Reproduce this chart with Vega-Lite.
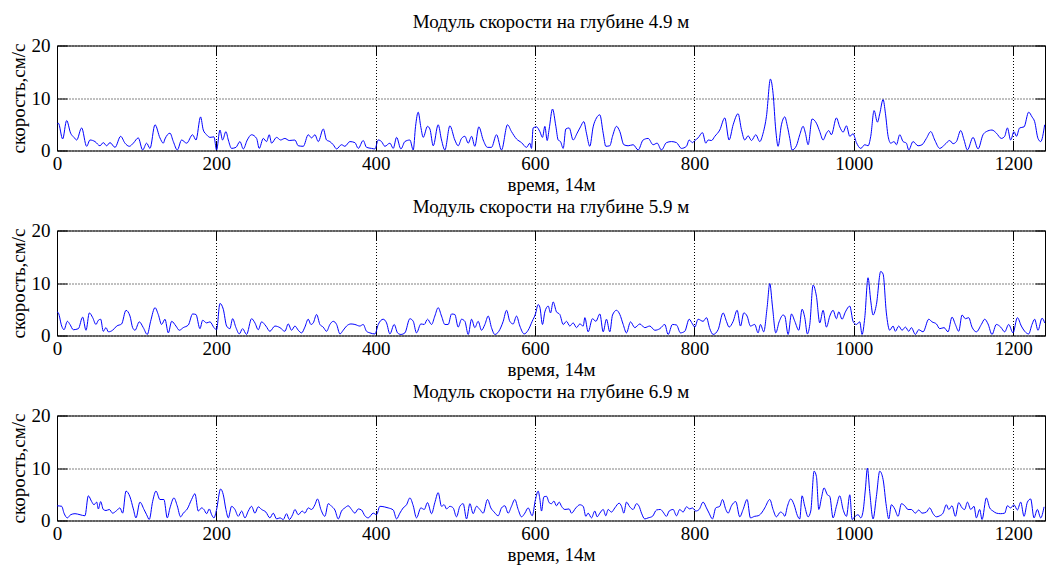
{
  "$schema": "https://vega.github.io/schema/vega-lite/v6.json",
  "background": "white",
  "padding": {"left": 9, "top": 11.5, "right": 0, "bottom": 0},
  "config": {
    "font": "Liberation Serif",
    "view": {"stroke": "black", "strokeWidth": 1},
    "axis": {
      "labelFont": "Liberation Serif", "labelFontSize": 19, "labelColor": "black",
      "titleFont": "Liberation Serif", "titleFontSize": 19, "titleFontWeight": "normal", "titleColor": "black",
      "tickColor": "black", "tickWidth": 1, "tickSize": -10, "domain": false,
      "gridColor": "black", "gridDash": [1, 2], "gridOpacity": 1, "gridWidth": 1,
      "labelFlush": false, "format": "d"
    },
    "title": {"font": "Liberation Serif", "fontSize": 19, "fontWeight": "normal", "color": "black", "baseline": "alphabetic", "offset": 5, "anchor": "middle"}
  },
  "datasets": {
    "d49": [
      {"t":0,"v":5.0},{"t":1.7,"v":5.2},{"t":7.1,"v":2.2},{"t":12.1,"v":5.7},{"t":17.1,"v":3.3},{"t":21.3,"v":2.5},{"t":24.7,"v":2.0},{"t":30.9,"v":4.3},{"t":37.2,"v":0.8},{"t":41.4,"v":2.0},{"t":47.7,"v":1.7},{"t":53.9,"v":0.9},{"t":58.1,"v":1.5},{"t":62.3,"v":0.9},{"t":66.5,"v":1.5},{"t":72.8,"v":0.6},{"t":79.9,"v":2.7},{"t":85.3,"v":1.4},{"t":90.8,"v":0.8},{"t":95.8,"v":1.4},{"t":102.0,"v":2.4},{"t":107.5,"v":0.1},{"t":112.5,"v":1.4},{"t":116.7,"v":0.4},{"t":123.0,"v":4.9},{"t":129.2,"v":2.4},{"t":133.4,"v":1.4},{"t":135.5,"v":2.2},{"t":141.8,"v":3.3},{"t":146.0,"v":1.7},{"t":151.0,"v":0.1},{"t":156.4,"v":2.0},{"t":162.7,"v":1.4},{"t":170.2,"v":3.0},{"t":174.4,"v":2.0},{"t":180.2,"v":6.4},{"t":183.6,"v":3.9},{"t":187.8,"v":3.0},{"t":192.0,"v":2.5},{"t":197.0,"v":2.6},{"t":200.3,"v":0.1},{"t":204.5,"v":3.9},{"t":207.8,"v":2.0},{"t":212.0,"v":3.6},{"t":215.0,"v":2.0},{"t":219.1,"v":0.4},{"t":224.6,"v":0.6},{"t":229.6,"v":1.7},{"t":233.8,"v":0.3},{"t":238.8,"v":2.0},{"t":244.2,"v":3.0},{"t":250.5,"v":2.3},{"t":253.8,"v":0.4},{"t":258.9,"v":2.3},{"t":263.0,"v":1.7},{"t":266.4,"v":3.0},{"t":269.3,"v":1.4},{"t":275.6,"v":2.5},{"t":280.6,"v":2.0},{"t":286.0,"v":2.3},{"t":291.5,"v":1.9},
      {"t":298.6,"v":2.0},{"t":302.8,"v":0.9},{"t":309.1,"v":0.8},{"t":315.3,"v":3.0},{"t":319.5,"v":2.4},{"t":323.7,"v":3.0},{"t":327.9,"v":1.7},{"t":334.2,"v":4.1},{"t":338.3,"v":2.0},{"t":342.5,"v":1.7},{"t":346.7,"v":1.1},{"t":350.9,"v":0.3},{"t":357.1,"v":1.1},{"t":361.3,"v":0.8},{"t":367.6,"v":1.7},{"t":373.9,"v":1.5},{"t":378.1,"v":0.4},{"t":384.3,"v":1.9},{"t":388.5,"v":0.6},{"t":394.8,"v":0.4},{"t":399.0,"v":0.3},{"t":403.2,"v":2.0},{"t":407.3,"v":1.7},{"t":411.5,"v":0.8},{"t":417.8,"v":1.4},{"t":422.0,"v":0.4},{"t":426.2,"v":2.5},{"t":431.6,"v":0.3},{"t":436.6,"v":1.7},{"t":442.9,"v":2.0},{"t":447.1,"v":0.1},{"t":450.0,"v":4.6},{"t":453.3,"v":7.3},{"t":456.7,"v":4.4},{"t":459.6,"v":2.5},{"t":465.0,"v":4.6},{"t":468.0,"v":4.1},{"t":472.2,"v":0.9},{"t":478.4,"v":4.9},{"t":482.6,"v":2.0},{"t":486.8,"v":0.1},{"t":493.1,"v":4.7},{"t":499.3,"v":2.0},{"t":503.5,"v":0.9},{"t":507.7,"v":2.3},{"t":511.9,"v":2.7},{"t":516.1,"v":1.4},{"t":520.3,"v":2.7},{"t":524.4,"v":0.8},{"t":529.4,"v":4.5},{"t":534.9,"v":2.0},{"t":540.3,"v":0.6},{"t":545.3,"v":0.6},{"t":551.6,"v":3.0},{"t":557.9,"v":0.1},{"t":565.4,"v":4.9},{"t":570.4,"v":3.6},{"t":576.7,"v":2.2},{"t":583.0,"v":1.5},{"t":589.3,"v":0.6},{"t":593.4,"v":1.4},{"t":595.5,"v":0.4},{"t":597.6,"v":4.3},{"t":601.8,"v":4.5},
      {"t":606.0,"v":3.6},{"t":609.3,"v":2.5},{"t":612.3,"v":4.6},{"t":615.2,"v":1.9},{"t":617.7,"v":4.1},{"t":621.9,"v":7.9},{"t":626.1,"v":4.6},{"t":629.0,"v":2.0},{"t":631.9,"v":1.7},{"t":635.3,"v":0.4},{"t":638.6,"v":4.1},{"t":642.8,"v":4.3},{"t":647.8,"v":2.0},{"t":652.8,"v":3.3},{"t":657.0,"v":4.5},{"t":661.2,"v":5.5},{"t":664.5,"v":3.3},{"t":668.7,"v":0.8},{"t":672.9,"v":4.5},{"t":677.1,"v":6.2},{"t":681.3,"v":6.8},{"t":685.5,"v":3.3},{"t":688.8,"v":0.8},{"t":693.8,"v":0.9},{"t":697.2,"v":2.7},{"t":702.2,"v":4.6},{"t":706.4,"v":3.6},{"t":711.4,"v":1.1},{"t":716.8,"v":0.9},{"t":723.1,"v":1.1},{"t":729.4,"v":0.1},{"t":735.6,"v":2.0},{"t":741.9,"v":2.3},{"t":748.2,"v":1.1},{"t":753.2,"v":1.4},{"t":758.6,"v":0.1},{"t":764.9,"v":1.5},{"t":771.2,"v":1.7},{"t":777.5,"v":1.5},{"t":783.7,"v":0.4},{"t":790.0,"v":0.8},{"t":793.4,"v":2.0},{"t":797.5,"v":1.5},{"t":800.5,"v":1.9},{"t":804.6,"v":2.4},{"t":810.1,"v":3.4},{"t":814.3,"v":1.4},{"t":817.2,"v":2.0},{"t":821.4,"v":1.9},{"t":825.6,"v":2.7},{"t":831.8,"v":3.9},{"t":838.1,"v":6.2},{"t":843.5,"v":2.0},{"t":848.6,"v":4.9},{"t":854.8,"v":7.0},{"t":859.0,"v":4.0},{"t":863.2,"v":2.0},{"t":867.4,"v":2.8},{"t":871.6,"v":1.9},{"t":877.0,"v":3.0},{"t":882.0,"v":1.7},{"t":886.2,"v":3.3},{"t":890.4,"v":6.5},{"t":895.4,"v":13.6},{"t":898.7,"v":10.9},{"t":902.1,"v":3.9},{"t":905.0,"v":0.8},{"t":909.2,"v":4.9},
      {"t":913.4,"v":6.4},{"t":916.7,"v":4.6},{"t":919.7,"v":2.3},{"t":922.6,"v":0.1},{"t":928.0,"v":0.9},{"t":932.2,"v":3.0},{"t":936.4,"v":4.6},{"t":939.3,"v":3.3},{"t":942.7,"v":1.1},{"t":947.7,"v":6.0},{"t":953.1,"v":5.2},{"t":957.3,"v":3.6},{"t":961.5,"v":2.0},{"t":965.7,"v":3.3},{"t":968.6,"v":3.8},{"t":971.9,"v":3.0},{"t":978.2,"v":6.2},{"t":982.4,"v":4.5},{"t":986.6,"v":3.5},{"t":990.8,"v":4.7},{"t":995.0,"v":2.7},{"t":999.1,"v":3.2},{"t":1003.3,"v":1.5},{"t":1008.8,"v":0.4},{"t":1013.8,"v":1.1},{"t":1018.0,"v":0.9},{"t":1021.3,"v":2.7},{"t":1025.5,"v":7.6},{"t":1029.7,"v":5.4},{"t":1032.6,"v":7.0},{"t":1036.8,"v":9.7},{"t":1039.7,"v":7.1},{"t":1043.1,"v":2.7},{"t":1046.4,"v":1.4},{"t":1050.6,"v":1.7},{"t":1053.5,"v":1.1},{"t":1057.7,"v":3.0},{"t":1061.9,"v":1.7},{"t":1066.0,"v":1.4},{"t":1069.0,"v":0.1},{"t":1074.4,"v":1.7},{"t":1080.7,"v":0.9},{"t":1085.7,"v":1.1},{"t":1091.1,"v":2.3},{"t":1096.6,"v":3.6},{"t":1101.6,"v":2.0},{"t":1107.9,"v":0.4},{"t":1114.1,"v":1.1},{"t":1120.4,"v":1.9},{"t":1124.6,"v":1.3},{"t":1128.8,"v":1.7},{"t":1134.2,"v":3.8},{"t":1138.4,"v":2.0},{"t":1142.6,"v":0.1},{"t":1149.7,"v":2.5},{"t":1156.0,"v":0.3},{"t":1162.2,"v":3.0},{"t":1166.4,"v":3.6},{"t":1173.5,"v":3.9},{"t":1179.0,"v":3.3},{"t":1185.2,"v":2.3},{"t":1189.4,"v":2.7},{"t":1192.8,"v":4.3},{"t":1196.9,"v":2.0},{"t":1201.1,"v":3.6},{"t":1204.1,"v":2.7},{"t":1208.2,"v":4.3},{"t":1213.7,"v":4.5},{"t":1219.5,"v":7.3},{"t":1223.7,"v":6.4},{"t":1227.0,"v":5.5},{"t":1231.2,"v":2.3},{"t":1234.6,"v":1.7},{"t":1239.6,"v":4.9}
    ],
    "d59": [
      {"t":0,"v":4.5},{"t":1.7,"v":4.3},{"t":5.9,"v":1.8},{"t":8.8,"v":1.1},{"t":13.0,"v":2.7},{"t":16.3,"v":2.1},{"t":20.5,"v":1.1},{"t":26.8,"v":1.3},{"t":32.2,"v":3.5},{"t":36.4,"v":1.0},{"t":40.6,"v":4.3},{"t":44.8,"v":3.4},{"t":48.9,"v":2.1},{"t":51.9,"v":2.9},{"t":54.8,"v":3.1},{"t":58.1,"v":0.8},{"t":61.5,"v":1.5},{"t":64.4,"v":0.7},{"t":69.8,"v":1.0},{"t":74.9,"v":1.8},{"t":81.1,"v":2.2},{"t":86.6,"v":4.8},{"t":91.6,"v":3.7},{"t":94.9,"v":1.5},{"t":97.9,"v":1.0},{"t":103.3,"v":2.6},{"t":108.3,"v":1.5},{"t":113.3,"v":0.2},{"t":117.5,"v":2.7},{"t":123.0,"v":5.3},{"t":127.1,"v":4.0},{"t":131.3,"v":2.1},{"t":135.5,"v":3.1},{"t":139.7,"v":0.5},{"t":143.9,"v":2.7},{"t":149.3,"v":1.8},{"t":153.5,"v":1.0},{"t":158.5,"v":1.5},{"t":164.8,"v":2.0},{"t":170.2,"v":4.1},{"t":174.4,"v":4.0},{"t":179.4,"v":1.3},{"t":182.8,"v":2.9},{"t":187.8,"v":2.4},{"t":192.0,"v":2.6},{"t":197.0,"v":1.5},{"t":200.3,"v":1.1},{"t":204.5,"v":6.1},{"t":208.7,"v":5.0},{"t":212.9,"v":1.8},{"t":217.0,"v":1.3},{"t":220.4,"v":3.2},{"t":224.6,"v":1.5},{"t":228.8,"v":0.3},{"t":232.9,"v":1.3},{"t":237.9,"v":0.2},{"t":244.2,"v":3.2},{"t":248.4,"v":2.4},{"t":252.6,"v":1.1},{"t":256.8,"v":2.6},{"t":262.2,"v":1.8},{"t":267.2,"v":0.8},{"t":273.5,"v":1.8},{"t":279.8,"v":1.5},{"t":286.0,"v":0.8},{"t":290.2,"v":2.2},{"t":294.4,"v":1.0},
      {"t":298.6,"v":1.8},{"t":302.8,"v":1.0},{"t":307.0,"v":0.5},{"t":311.1,"v":1.6},{"t":315.3,"v":3.1},{"t":318.7,"v":2.1},{"t":321.6,"v":2.4},{"t":325.8,"v":4.0},{"t":330.0,"v":2.1},{"t":334.1,"v":1.6},{"t":338.3,"v":0.8},{"t":342.5,"v":2.1},{"t":346.7,"v":2.7},{"t":350.9,"v":2.1},{"t":355.1,"v":0.3},{"t":359.2,"v":1.0},{"t":363.4,"v":1.8},{"t":368.9,"v":2.2},{"t":373.9,"v":2.1},{"t":380.1,"v":1.8},{"t":384.3,"v":2.1},{"t":388.5,"v":0.8},{"t":392.7,"v":0.5},{"t":399.0,"v":0.3},{"t":403.2,"v":2.1},{"t":409.4,"v":3.1},{"t":413.6,"v":2.4},{"t":417.8,"v":0.3},{"t":423.2,"v":2.1},{"t":427.4,"v":0.5},{"t":431.6,"v":0.2},{"t":436.6,"v":0.5},{"t":442.9,"v":3.2},{"t":447.1,"v":2.7},{"t":451.2,"v":0.5},{"t":456.7,"v":2.2},{"t":460.9,"v":2.1},{"t":465.0,"v":3.1},{"t":470.1,"v":2.1},{"t":474.2,"v":3.7},{"t":478.4,"v":5.3},{"t":482.6,"v":3.7},{"t":486.8,"v":2.1},{"t":491.0,"v":2.1},{"t":495.2,"v":4.1},{"t":499.3,"v":4.0},{"t":503.5,"v":1.6},{"t":507.7,"v":3.1},{"t":511.9,"v":2.7},{"t":516.1,"v":0.2},{"t":520.3,"v":3.1},{"t":524.4,"v":1.5},{"t":528.6,"v":2.7},{"t":532.8,"v":1.0},{"t":537.0,"v":2.1},{"t":541.2,"v":3.7},{"t":545.3,"v":1.5},{"t":549.5,"v":0.2},{"t":554.5,"v":0.8},{"t":560.0,"v":2.7},{"t":564.2,"v":4.8},{"t":568.3,"v":2.7},{"t":572.5,"v":2.2},{"t":576.7,"v":3.7},{"t":580.9,"v":1.8},{"t":586.3,"v":0.3},{"t":591.3,"v":1.0},{"t":596.4,"v":2.7},{"t":600.5,"v":4.1},{"t":603.9,"v":5.9},
      {"t":606.0,"v":5.4},{"t":609.3,"v":2.1},{"t":612.3,"v":4.5},{"t":616.5,"v":5.6},{"t":619.4,"v":4.3},{"t":622.7,"v":6.4},{"t":626.9,"v":4.5},{"t":631.1,"v":4.0},{"t":635.3,"v":2.1},{"t":639.5,"v":2.7},{"t":643.6,"v":1.8},{"t":647.8,"v":2.4},{"t":652.0,"v":1.5},{"t":656.2,"v":2.2},{"t":660.4,"v":1.8},{"t":662.5,"v":3.4},{"t":666.6,"v":0.7},{"t":672.1,"v":3.2},{"t":676.3,"v":2.7},{"t":681.3,"v":4.1},{"t":685.5,"v":0.7},{"t":689.6,"v":3.1},{"t":693.8,"v":0.7},{"t":697.2,"v":3.9},{"t":702.2,"v":4.8},{"t":706.4,"v":4.0},{"t":710.6,"v":2.1},{"t":714.7,"v":0.5},{"t":719.8,"v":2.6},{"t":725.2,"v":1.5},{"t":731.5,"v":2.2},{"t":737.7,"v":1.5},{"t":744.0,"v":1.8},{"t":750.3,"v":1.0},{"t":756.6,"v":1.3},{"t":762.8,"v":2.1},{"t":767.0,"v":0.2},{"t":772.4,"v":2.1},{"t":777.5,"v":2.0},{"t":782.5,"v":0.5},{"t":787.9,"v":0.8},{"t":793.4,"v":3.1},{"t":797.5,"v":2.2},{"t":800.5,"v":1.6},{"t":804.6,"v":3.1},{"t":810.9,"v":2.7},{"t":815.1,"v":3.4},{"t":819.3,"v":1.3},{"t":823.5,"v":0.2},{"t":829.7,"v":1.1},{"t":836.0,"v":4.3},{"t":840.2,"v":2.7},{"t":843.5,"v":1.6},{"t":848.6,"v":2.7},{"t":853.6,"v":4.8},{"t":857.8,"v":1.8},{"t":862.0,"v":4.3},{"t":866.1,"v":3.7},{"t":870.3,"v":1.8},{"t":875.7,"v":2.1},{"t":879.9,"v":0.5},{"t":882.9,"v":2.1},{"t":887.0,"v":0.7},{"t":891.2,"v":5.3},{"t":894.6,"v":9.9},{"t":897.9,"v":5.6},{"t":902.1,"v":0.5},{"t":906.3,"v":2.6},{"t":911.3,"v":3.9},
      {"t":913.4,"v":3.7},{"t":917.6,"v":0.2},{"t":921.8,"v":4.1},{"t":926.0,"v":2.7},{"t":931.0,"v":1.0},{"t":935.1,"v":5.0},{"t":938.5,"v":3.4},{"t":941.8,"v":0.3},{"t":944.8,"v":2.1},{"t":948.9,"v":9.6},{"t":953.1,"v":7.5},{"t":957.3,"v":2.4},{"t":961.5,"v":4.8},{"t":965.7,"v":1.6},{"t":969.9,"v":3.7},{"t":974.0,"v":4.8},{"t":978.2,"v":3.2},{"t":981.2,"v":4.5},{"t":985.3,"v":3.1},{"t":989.5,"v":4.5},{"t":995.0,"v":5.6},{"t":999.1,"v":2.7},{"t":1003.3,"v":2.1},{"t":1007.5,"v":2.6},{"t":1010.4,"v":0.2},{"t":1013.8,"v":3.4},{"t":1017.9,"v":11.0},{"t":1021.3,"v":6.6},{"t":1024.2,"v":3.9},{"t":1028.4,"v":5.9},{"t":1033.8,"v":12.2},{"t":1036.8,"v":11.7},{"t":1040.9,"v":4.3},{"t":1045.1,"v":1.0},{"t":1049.3,"v":1.8},{"t":1052.2,"v":0.8},{"t":1056.4,"v":1.8},{"t":1060.6,"v":1.0},{"t":1064.8,"v":1.6},{"t":1069.0,"v":0.8},{"t":1072.3,"v":1.5},{"t":1077.3,"v":0.2},{"t":1081.5,"v":1.1},{"t":1087.0,"v":0.7},{"t":1094.1,"v":3.1},{"t":1098.2,"v":2.6},{"t":1103.7,"v":2.2},{"t":1107.9,"v":1.3},{"t":1113.3,"v":1.5},{"t":1118.3,"v":0.7},{"t":1123.3,"v":3.5},{"t":1127.5,"v":2.1},{"t":1131.7,"v":0.8},{"t":1135.9,"v":3.9},{"t":1140.1,"v":3.2},{"t":1144.2,"v":3.4},{"t":1148.4,"v":1.6},{"t":1153.9,"v":0.7},{"t":1160.1,"v":2.1},{"t":1164.3,"v":3.1},{"t":1168.5,"v":2.2},{"t":1173.5,"v":0.2},{"t":1178.9,"v":2.1},{"t":1184.4,"v":1.6},{"t":1189.4,"v":0.7},{"t":1194.4,"v":2.1},{"t":1199.9,"v":0.5},{"t":1205.3,"v":3.4},{"t":1210.3,"v":1.8},{"t":1214.5,"v":0.8},{"t":1219.5,"v":0.3},{"t":1223.7,"v":2.1},{"t":1227.0,"v":3.1},{"t":1231.2,"v":1.0},{"t":1236.3,"v":3.3},{"t":1239.6,"v":2.4}
    ],
    "d69": [
      {"t":0,"v":2.8},{"t":5.9,"v":2.7},{"t":8.8,"v":1.4},{"t":13.0,"v":0.5},{"t":17.1,"v":1.1},{"t":22.6,"v":1.3},{"t":28.9,"v":1.1},{"t":35.1,"v":0.9},{"t":39.3,"v":4.7},{"t":43.5,"v":3.6},{"t":46.4,"v":3.0},{"t":49.8,"v":3.5},{"t":51.9,"v":2.2},{"t":54.8,"v":3.6},{"t":58.1,"v":2.1},{"t":61.5,"v":1.9},{"t":65.7,"v":2.1},{"t":69.8,"v":1.4},{"t":74.9,"v":1.9},{"t":79.0,"v":2.4},{"t":82.4,"v":1.4},{"t":86.6,"v":5.6},{"t":91.6,"v":4.5},{"t":95.8,"v":2.2},{"t":99.1,"v":0.5},{"t":104.1,"v":3.5},{"t":109.2,"v":2.1},{"t":112.5,"v":1.1},{"t":115.8,"v":0.2},{"t":120.0,"v":3.6},{"t":124.2,"v":5.6},{"t":129.2,"v":4.0},{"t":134.2,"v":4.0},{"t":138.4,"v":0.5},{"t":141.8,"v":2.4},{"t":146.8,"v":4.3},{"t":150.9,"v":2.8},{"t":155.1,"v":0.7},{"t":158.5,"v":1.4},{"t":163.5,"v":2.2},{"t":168.9,"v":4.0},{"t":173.1,"v":5.1},{"t":177.3,"v":1.8},{"t":181.5,"v":2.4},{"t":184.4,"v":2.1},{"t":187.8,"v":1.3},{"t":191.1,"v":2.2},{"t":194.1,"v":1.1},{"t":197.0,"v":0.5},{"t":200.3,"v":2.1},{"t":205.3,"v":6.0},{"t":208.7,"v":4.9},{"t":212.0,"v":2.1},{"t":215.0,"v":0.5},{"t":219.1,"v":2.7},{"t":223.3,"v":2.1},{"t":227.5,"v":0.8},{"t":231.7,"v":1.8},{"t":235.9,"v":0.5},{"t":240.1,"v":1.8},{"t":244.2,"v":2.7},{"t":248.4,"v":1.4},{"t":252.6,"v":2.6},{"t":256.8,"v":2.1},{"t":262.2,"v":1.6},{"t":267.2,"v":0.5},{"t":271.4,"v":1.4},{"t":275.6,"v":0.3},{"t":279.8,"v":0.5},{"t":284.0,"v":0.2},{"t":288.1,"v":1.3},{"t":291.5,"v":0.2},{"t":295.7,"v":1.1},
      {"t":298.6,"v":2.1},{"t":302.8,"v":1.1},{"t":307.8,"v":1.8},{"t":311.1,"v":1.4},{"t":315.3,"v":2.4},{"t":319.5,"v":2.1},{"t":323.7,"v":3.0},{"t":327.0,"v":4.1},{"t":331.2,"v":2.1},{"t":336.2,"v":0.8},{"t":340.4,"v":3.2},{"t":344.6,"v":2.7},{"t":348.8,"v":2.0},{"t":353.0,"v":0.3},{"t":357.1,"v":1.8},{"t":361.3,"v":2.4},{"t":365.5,"v":2.8},{"t":369.7,"v":2.1},{"t":373.9,"v":1.4},{"t":378.1,"v":2.2},{"t":382.2,"v":2.0},{"t":386.4,"v":0.9},{"t":390.6,"v":0.5},{"t":396.9,"v":1.4},{"t":401.1,"v":1.1},{"t":405.2,"v":2.7},{"t":410.7,"v":2.6},{"t":415.7,"v":2.4},{"t":422.0,"v":2.0},{"t":426.2,"v":0.3},{"t":430.3,"v":1.4},{"t":434.5,"v":2.4},{"t":438.7,"v":3.0},{"t":442.9,"v":4.3},{"t":447.1,"v":2.8},{"t":451.2,"v":0.5},{"t":456.7,"v":2.4},{"t":460.9,"v":2.1},{"t":465.0,"v":3.4},{"t":470.1,"v":1.3},{"t":474.2,"v":3.4},{"t":478.4,"v":5.3},{"t":482.6,"v":2.7},{"t":485.9,"v":3.0},{"t":488.9,"v":2.2},{"t":493.1,"v":2.7},{"t":497.2,"v":2.4},{"t":501.4,"v":0.7},{"t":505.6,"v":2.7},{"t":509.8,"v":3.2},{"t":514.0,"v":0.3},{"t":518.2,"v":3.2},{"t":522.3,"v":1.3},{"t":526.5,"v":2.7},{"t":530.7,"v":2.1},{"t":534.9,"v":1.4},{"t":540.3,"v":4.0},{"t":544.5,"v":2.4},{"t":548.7,"v":1.6},{"t":553.7,"v":0.9},{"t":557.9,"v":2.4},{"t":562.1,"v":2.8},{"t":566.2,"v":1.4},{"t":570.4,"v":2.7},{"t":574.6,"v":4.0},{"t":578.8,"v":2.1},{"t":583.0,"v":0.7},{"t":587.2,"v":1.4},{"t":591.3,"v":2.4},{"t":596.4,"v":0.9},{"t":600.5,"v":4.0},{"t":603.9,"v":5.6},
      {"t":606.0,"v":4.1},{"t":608.1,"v":1.8},{"t":611.0,"v":4.5},{"t":614.4,"v":4.6},{"t":617.7,"v":3.4},{"t":620.6,"v":3.2},{"t":623.6,"v":3.7},{"t":626.9,"v":2.8},{"t":630.3,"v":3.5},{"t":633.2,"v":2.7},{"t":637.4,"v":2.1},{"t":642.8,"v":2.2},{"t":645.7,"v":1.4},{"t":651.2,"v":2.4},{"t":656.2,"v":3.0},{"t":660.4,"v":2.7},{"t":663.7,"v":0.8},{"t":666.6,"v":1.4},{"t":670.8,"v":0.5},{"t":675.0,"v":1.8},{"t":677.9,"v":0.7},{"t":681.3,"v":1.4},{"t":685.5,"v":2.1},{"t":688.8,"v":0.9},{"t":691.7,"v":2.1},{"t":695.9,"v":1.6},{"t":700.1,"v":2.4},{"t":705.5,"v":3.3},{"t":708.5,"v":2.7},{"t":711.4,"v":1.4},{"t":714.7,"v":3.5},{"t":718.9,"v":2.6},{"t":723.1,"v":2.1},{"t":727.3,"v":3.2},{"t":730.6,"v":2.7},{"t":733.6,"v":1.4},{"t":737.7,"v":0.3},{"t":741.9,"v":0.5},{"t":747.4,"v":0.8},{"t":752.4,"v":2.0},{"t":757.4,"v":2.1},{"t":760.7,"v":1.6},{"t":764.9,"v":0.8},{"t":768.3,"v":1.8},{"t":773.3,"v":2.1},{"t":777.5,"v":0.9},{"t":781.6,"v":2.1},{"t":785.8,"v":1.6},{"t":790.0,"v":2.6},{"t":794.2,"v":2.2},{"t":797.5,"v":2.4},{"t":801.7,"v":1.8},{"t":805.9,"v":2.1},{"t":810.9,"v":3.5},{"t":815.1,"v":2.4},{"t":818.4,"v":1.4},{"t":822.6,"v":0.3},{"t":826.8,"v":2.4},{"t":831.8,"v":2.7},{"t":835.2,"v":4.0},{"t":839.4,"v":2.1},{"t":842.3,"v":1.4},{"t":846.5,"v":2.8},{"t":851.9,"v":3.6},{"t":856.9,"v":0.7},{"t":861.1,"v":2.1},{"t":866.1,"v":4.0},{"t":870.3,"v":0.5},{"t":875.7,"v":0.8},{"t":879.9,"v":0.9},{"t":884.1,"v":1.4},{"t":888.3,"v":2.4},{"t":894.6,"v":4.0},{"t":898.7,"v":2.1},{"t":902.9,"v":0.7},{"t":907.9,"v":1.6},{"t":911.3,"v":1.3},
      {"t":913.4,"v":0.8},{"t":916.7,"v":2.7},{"t":920.9,"v":4.1},{"t":925.1,"v":3.0},{"t":929.3,"v":0.9},{"t":932.2,"v":0.3},{"t":935.1,"v":4.7},{"t":938.5,"v":2.7},{"t":942.7,"v":0.7},{"t":946.0,"v":1.8},{"t":950.2,"v":9.4},{"t":953.1,"v":8.4},{"t":956.1,"v":2.1},{"t":959.4,"v":4.3},{"t":962.7,"v":6.2},{"t":966.9,"v":4.9},{"t":969.9,"v":4.6},{"t":974.0,"v":0.5},{"t":978.2,"v":2.7},{"t":982.4,"v":4.7},{"t":986.6,"v":2.1},{"t":990.8,"v":0.8},{"t":995.0,"v":4.9},{"t":997.9,"v":0.2},{"t":1001.2,"v":0.7},{"t":1005.4,"v":1.1},{"t":1008.8,"v":0.5},{"t":1011.7,"v":1.8},{"t":1014.6,"v":6.0},{"t":1017.1,"v":10.0},{"t":1020.0,"v":5.5},{"t":1024.2,"v":0.3},{"t":1028.4,"v":4.6},{"t":1032.6,"v":9.4},{"t":1036.8,"v":7.8},{"t":1040.9,"v":2.7},{"t":1043.9,"v":0.3},{"t":1047.2,"v":3.0},{"t":1051.4,"v":2.2},{"t":1055.6,"v":0.8},{"t":1059.8,"v":3.2},{"t":1064.0,"v":2.8},{"t":1068.1,"v":2.1},{"t":1072.3,"v":2.1},{"t":1077.3,"v":1.4},{"t":1081.5,"v":2.0},{"t":1085.7,"v":1.4},{"t":1091.1,"v":1.6},{"t":1095.3,"v":2.4},{"t":1099.5,"v":1.3},{"t":1103.7,"v":0.7},{"t":1107.9,"v":0.9},{"t":1112.0,"v":1.4},{"t":1116.2,"v":3.0},{"t":1119.2,"v":2.1},{"t":1123.3,"v":2.8},{"t":1127.5,"v":0.8},{"t":1131.7,"v":3.4},{"t":1135.9,"v":2.4},{"t":1139.2,"v":2.1},{"t":1142.6,"v":3.5},{"t":1146.8,"v":2.1},{"t":1150.9,"v":2.7},{"t":1153.9,"v":0.5},{"t":1158.0,"v":2.1},{"t":1161.0,"v":0.2},{"t":1166.4,"v":4.3},{"t":1170.6,"v":2.4},{"t":1174.8,"v":1.8},{"t":1179.0,"v":1.4},{"t":1184.4,"v":1.3},{"t":1189.4,"v":1.4},{"t":1192.8,"v":2.8},{"t":1196.9,"v":2.4},{"t":1201.1,"v":3.0},{"t":1205.3,"v":2.0},{"t":1209.5,"v":3.5},{"t":1213.7,"v":0.8},{"t":1217.9,"v":3.5},{"t":1222.0,"v":4.1},{"t":1226.2,"v":0.5},{"t":1230.4,"v":2.1},{"t":1234.6,"v":0.5},{"t":1238.8,"v":2.6}
    ]
  },
  "spacing": 80,
  "bounds": "flush",
  "vconcat": [
    {
      "title": "Модуль скорости на глубине 4.9 м",
      "data": {"name": "d49"},
      "width": 988, "height": 105,
      "layer": [
        {
          "mark": {"type": "line", "color": "#0000ff", "strokeWidth": 1, "interpolate": "monotone", "clip": true},
          "encoding": {
            "x": {"field": "t", "type": "quantitative", "scale": {"domain": [0, 1240], "nice": false, "zero": false},
                  "axis": {"orient": "bottom", "values": [0, 200, 400, 600, 800, 1000, 1200], "title": "время, 14м", "labelPadding": 13.5, "titlePadding": 2, "grid": true}},
            "y": {"field": "v", "type": "quantitative", "scale": {"domain": [0, 20], "nice": false},
                  "axis": {"orient": "left", "values": [0, 10, 20], "title": "скорость,см/с", "labelPadding": 17, "titlePadding": 2.5, "grid": true}}
          }
        },
        {
          "mark": {"type": "line", "strokeOpacity": 0},
          "encoding": {
            "x": {"field": "t", "type": "quantitative", "axis": {"orient": "top", "values": [0, 200, 400, 600, 800, 1000, 1200], "labels": false, "title": null, "grid": false}},
            "y": {"field": "v", "type": "quantitative", "axis": {"orient": "right", "values": [0, 10, 20], "labels": false, "title": null, "grid": false}}
          }
        }
      ],
      "resolve": {"axis": {"x": "independent", "y": "independent"}}
    },
    {
      "title": "Модуль скорости на глубине 5.9 м",
      "data": {"name": "d59"},
      "width": 988, "height": 105,
      "layer": [
        {
          "mark": {"type": "line", "color": "#0000ff", "strokeWidth": 1, "interpolate": "monotone", "clip": true},
          "encoding": {
            "x": {"field": "t", "type": "quantitative", "scale": {"domain": [0, 1240], "nice": false, "zero": false},
                  "axis": {"orient": "bottom", "values": [0, 200, 400, 600, 800, 1000, 1200], "title": "время, 14м", "labelPadding": 13.5, "titlePadding": 2, "grid": true}},
            "y": {"field": "v", "type": "quantitative", "scale": {"domain": [0, 20], "nice": false},
                  "axis": {"orient": "left", "values": [0, 10, 20], "title": "скорость,см/с", "labelPadding": 17, "titlePadding": 2.5, "grid": true}}
          }
        },
        {
          "mark": {"type": "line", "strokeOpacity": 0},
          "encoding": {
            "x": {"field": "t", "type": "quantitative", "axis": {"orient": "top", "values": [0, 200, 400, 600, 800, 1000, 1200], "labels": false, "title": null, "grid": false}},
            "y": {"field": "v", "type": "quantitative", "axis": {"orient": "right", "values": [0, 10, 20], "labels": false, "title": null, "grid": false}}
          }
        }
      ],
      "resolve": {"axis": {"x": "independent", "y": "independent"}}
    },
    {
      "title": "Модуль скорости на глубине 6.9 м",
      "data": {"name": "d69"},
      "width": 988, "height": 105,
      "layer": [
        {
          "mark": {"type": "line", "color": "#0000ff", "strokeWidth": 1, "interpolate": "monotone", "clip": true},
          "encoding": {
            "x": {"field": "t", "type": "quantitative", "scale": {"domain": [0, 1240], "nice": false, "zero": false},
                  "axis": {"orient": "bottom", "values": [0, 200, 400, 600, 800, 1000, 1200], "title": "время, 14м", "labelPadding": 13.5, "titlePadding": 2, "grid": true}},
            "y": {"field": "v", "type": "quantitative", "scale": {"domain": [0, 20], "nice": false},
                  "axis": {"orient": "left", "values": [0, 10, 20], "title": "скорость,см/с", "labelPadding": 17, "titlePadding": 2.5, "grid": true}}
          }
        },
        {
          "mark": {"type": "line", "strokeOpacity": 0},
          "encoding": {
            "x": {"field": "t", "type": "quantitative", "axis": {"orient": "top", "values": [0, 200, 400, 600, 800, 1000, 1200], "labels": false, "title": null, "grid": false}},
            "y": {"field": "v", "type": "quantitative", "axis": {"orient": "right", "values": [0, 10, 20], "labels": false, "title": null, "grid": false}}
          }
        }
      ],
      "resolve": {"axis": {"x": "independent", "y": "independent"}}
    }
  ]
}
